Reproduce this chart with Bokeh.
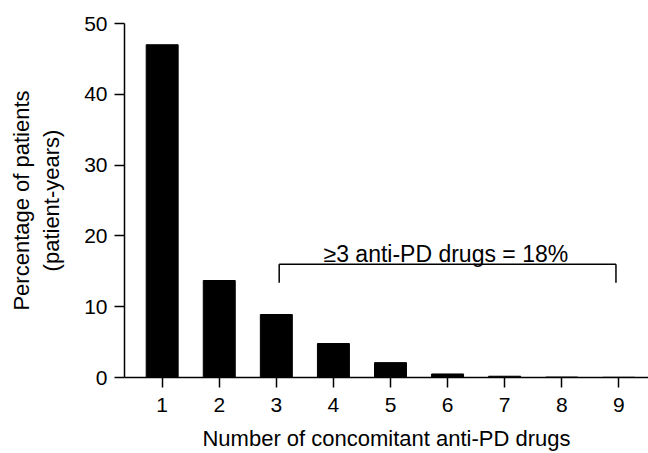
from bokeh.plotting import figure
from bokeh.models import Range1d, FixedTicker, ColumnDataSource
from bokeh.core.properties import value
from bokeh.embed import file_html
from bokeh.resources import INLINE

# Data
drug_counts = [1, 2, 3, 4, 5, 6, 7, 8, 9]
pct_patients = [47.0, 13.7, 8.9, 4.8, 2.1, 0.5, 0.18, 0.06, 0.03]
y_ticks = [0, 10, 20, 30, 40, 50]
bracket_from, bracket_to = 3, 9
bracket_label = "\u22653 anti-PD drugs = 18%"

FONT = "Liberation Sans"
FS = "21px"

p = figure(width=648, height=453, output_backend="svg", toolbar_location=None,
           x_range=Range1d(0.34, 9.52), y_range=Range1d(0, 50),
           min_border_left=124, min_border_right=0, min_border_top=23,
           min_border_bottom=76)
p.outline_line_color = None
p.xgrid.visible = False
p.ygrid.visible = False
p.background_fill_color = "white"
p.border_fill_color = "white"

src = ColumnDataSource(dict(x=drug_counts, top=pct_patients))
p.vbar(x="x", top="top", bottom=0, width=0.56, source=src,
       fill_color="black", line_color="black")

# bracket
bh = 16.0
bl = 13.4
p.segment(x0=[bracket_from + 0.05, bracket_from + 0.05, bracket_to - 0.05],
          y0=[bh, bh, bh],
          x1=[bracket_to - 0.05, bracket_from + 0.05, bracket_to - 0.05],
          y1=[bh, bl, bl],
          line_color="black", line_width=1.5)
p.text(x=[(bracket_from + bracket_to) / 2 - 0.03], y=[17.5], text=[bracket_label],
       text_font=value(FONT), text_font_size="23px", text_align="center",
       text_baseline="alphabetic", text_color="black")

for ax in (p.xaxis[0], p.yaxis[0]):
    ax.axis_line_color = "black"
    ax.axis_line_width = 1.5
    ax.major_tick_line_color = "black"
    ax.major_tick_line_width = 1.5
    ax.major_tick_out = 10
    ax.major_tick_in = 0
    ax.minor_tick_line_color = None
    ax.major_label_text_font = FONT
    ax.major_label_text_font_size = FS
    ax.major_label_text_color = "black"
    ax.axis_label_text_font = FONT
    ax.axis_label_text_font_size = "22px"
    ax.axis_label_text_font_style = "normal"
    ax.axis_label_text_color = "black"

p.xaxis.ticker = FixedTicker(ticks=drug_counts)
p.yaxis.ticker = FixedTicker(ticks=y_ticks)
p.xaxis.major_label_standoff = 10
p.yaxis.major_label_standoff = 7
p.xaxis.axis_label = "Number of concomitant anti-PD drugs"
p.xaxis.axis_label_standoff = 11
p.yaxis.axis_label = "Percentage of patients\n(patient-years)"
p.yaxis.axis_label_standoff = 17

open("out.html", "w").write(file_html(p, INLINE))
